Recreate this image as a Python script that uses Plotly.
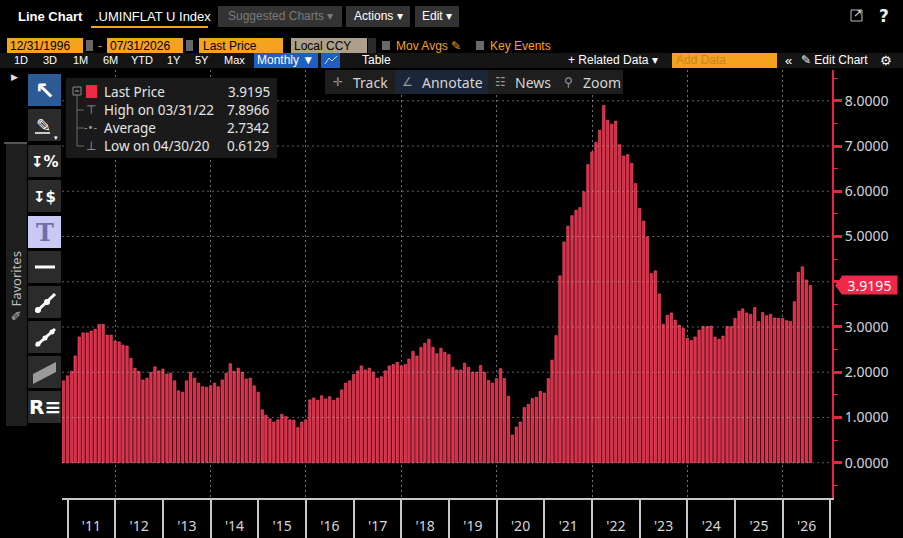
import pandas as pd
import plotly.graph_objects as go

# Monatswerte (Monatsende)
v2010 = [1.81, 1.92]  # Nov, Dez
v2011 = [2.02, 2.36, 2.78, 2.87, 2.87, 2.91, 2.95, 3.06, 3.06, 2.82, 2.82, 2.69]
v2012 = [2.67, 2.60, 2.58, 2.31, 2.09, 2.02, 1.83, 1.87, 2.00, 2.12, 2.03, 2.07]
v2013 = [1.96, 1.98, 1.81, 1.59, 1.56, 1.81, 2.00, 1.87, 1.76, 1.68, 1.67, 1.70]
v2014 = [1.76, 1.68, 1.83, 1.98, 2.19, 2.02, 2.09, 2.00, 1.85, 1.87, 1.70, 1.56]
v2015 = [1.17, 1.05, 0.97, 0.90, 0.95, 1.07, 1.02, 0.95, 0.94, 0.78, 0.90, 0.95]
v2016 = [1.39, 1.43, 1.38, 1.48, 1.41, 1.46, 1.38, 1.43, 1.61, 1.76, 1.81, 1.95]
v2017 = [2.03, 2.14, 2.05, 2.09, 2.00, 1.87, 1.90, 2.03, 2.14, 2.17, 2.22, 2.14]
v2018 = [2.17, 2.29, 2.46, 2.36, 2.55, 2.64, 2.73, 2.55, 2.41, 2.53, 2.44, 2.39]
v2019 = [2.11, 2.05, 2.05, 2.20, 2.11, 2.00, 2.00, 2.15, 2.00, 1.82, 1.76, 1.86]
v2020 = [2.08, 1.86, 1.47, 0.6129, 0.79, 0.90, 1.22, 1.29, 1.42, 1.45, 1.58, 1.54]
v2021 = [1.86, 2.27, 2.81, 4.13, 4.88, 5.23, 5.46, 5.58, 5.64, 5.99, 6.59, 6.87]
v2022 = [7.08, 7.35, 7.8966, 7.57, 7.48, 7.55, 7.03, 6.78, 6.81, 6.62, 6.17, 5.62]
v2023 = [5.34, 4.99, 4.18, 4.24, 3.73, 3.06, 3.26, 3.31, 3.15, 3.04, 2.97, 2.75]
v2024 = [2.70, 2.78, 2.93, 3.01, 3.01, 3.02, 2.78, 2.73, 2.80, 3.01, 3.01, 3.19]
v2025 = [3.35, 3.40, 3.31, 3.28, 3.43, 3.12, 3.32, 3.25, 3.28, 3.20, 3.19, 3.19]
v2026 = [3.14, 3.12, 3.56, 4.21, 4.33, 4.04, 3.9195]

werte = (v2010 + v2011 + v2012 + v2013 + v2014 + v2015 + v2016 + v2017 + v2018
         + v2019 + v2020 + v2021 + v2022 + v2023 + v2024 + v2025 + v2026)
daten = pd.date_range("2010-11-30", periods=len(werte), freq="ME")

last_price = werte[-1]
high_datum, high_wert = "03/31/22", 7.8966
average = 2.7342
low_datum, low_wert = "04/30/20", 0.6129

# y-Achse: Beschriftung bei 4 liegt unter dem Preisschild
y_ticks = [0, 1, 2, 3, 4, 5, 6, 7, 8]
y_text = ["0.0000", "1.0000", "2.0000", "3.0000", "", "5.0000", "6.0000", "7.0000", "8.0000"]

# Farben / Schriften
ROT = "#e8233f"
ORANGE = "#f5a21f"
UI = "Liberation Sans Narrow, Arial Narrow, Liberation Sans, sans-serif"
CHART = "Noto Sans, Open Sans, sans-serif"

W, H = 903, 538
L, R, T, B = 62, 832, 70, 498


def px(x):
    return (x - L) / (R - L)


def py(y):
    return (B - y) / (B - T)


shapes = []
annotations = []

# horizontales Gitter ueber den Balken (wie im Original leicht sichtbar)
for yv in y_ticks:
    shapes.append(dict(type="line", xref="paper", yref="y", x0=0, x1=1, y0=yv, y1=yv,
                       layer="above", line=dict(color="rgba(190,190,190,0.5)", width=1, dash="2px,3px")))


def rect(x0, y0, x1, y1, fill, line=None):
    shapes.append(dict(type="rect", xref="paper", yref="paper",
                       x0=px(x0), x1=px(x1), y0=py(y0), y1=py(y1),
                       fillcolor=fill, layer="above",
                       line=dict(width=1, color=line) if line else dict(width=0)))


def linie(x0, y0, x1, y1, color, width=1):
    shapes.append(dict(type="line", xref="paper", yref="paper",
                       x0=px(x0), x1=px(x1), y0=py(y0), y1=py(y1),
                       layer="above", line=dict(color=color, width=width)))


def text(x, y, s, size=12, color="#e6e6e6", anchor="left", family=UI, **kw):
    annotations.append(dict(x=px(x), y=py(y), xref="paper", yref="paper", text=s,
                            showarrow=False, xanchor=anchor, yanchor="middle", borderpad=0,
                            font=dict(size=size, color=color, family=family), **kw))


# --- obere Leisten ---
text(17, 16, "<b>Line Chart</b>", 13, "#ffffff")
text(94, 16, ".UMINFLAT U Index", 13, "#ffffff")
linie(91, 27, 208, 27, ORANGE, 2)
rect(218, 6, 342, 27, "#333333")
text(280, 16, "Suggested Charts ▾", 12, "#7a7a7a", "center")
rect(346, 6, 410, 27, "#333333")
text(378, 16, "Actions ▾", 12, "#ffffff", "center")
rect(415, 6, 459, 27, "#333333")
text(437, 16, "Edit ▾", 12, "#ffffff", "center")
rect(851, 10, 862, 21, "rgba(0,0,0,0)", "#bbbbbb")
text(858, 14, "↗", 11, "#dddddd", "center", "DejaVu Sans")
text(884, 16, "<b>?</b>", 17, "#f0f0f0", "center", "DejaVu Sans")

rect(7, 38, 83, 53, ORANGE)
text(9, 45.5, "12/31/1996", 12, "#000000")
rect(86, 40, 93, 51, "#666666")
text(100, 45.5, "-", 12, ORANGE, "center")
rect(107, 38, 183, 53, ORANGE)
text(109, 45.5, "07/31/2026", 12, "#000000")
rect(186, 40, 193, 51, "#666666")
rect(199, 38, 283, 53, ORANGE)
text(202, 45.5, "Last Price", 12, "#000000")
rect(291, 38, 367, 53, "#ad9f8a")
text(293, 45.5, "Local CCY", 12, "#000000")
rect(368, 38, 376, 53, "#2a2a2a")
rect(382, 41, 390, 50, "#6a6a6a")
text(395, 45.5, "Mov Avgs ✎", 12, ORANGE)
rect(476, 41, 484, 50, "#6a6a6a")
text(489, 45.5, "Key Events", 12, ORANGE)

rect(0, 53, 903, 68, "#151515")
for lab, xc in zip(["1D", "3D", "1M", "6M", "YTD", "1Y", "5Y", "Max"],
                   [21, 50, 80, 110, 142, 174, 202, 234]):
    text(xc, 60.5, lab, 11, "#ffffff", "center")
rect(254, 53, 318, 68, "#1f5fbf")
text(285, 60.5, "Monthly ▼", 12, "#ffffff", "center")
rect(321, 53, 340, 68, "#1f5fbf")
shapes.append(dict(type="path", xref="paper", yref="paper", layer="above",
                   path="M {} {} L {} {} L {} {} L {} {}".format(
                       px(325), py(64), px(329), py(58), px(332), py(61), px(337), py(56)),
                   line=dict(color="#cfe0ff", width=1)))
text(361, 60.5, "Table", 12, "#ffffff")
text(567, 60.5, "+ Related Data ▾", 12, "#ffffff")
rect(672, 53, 777, 68, ORANGE)
text(675, 60.5, "Add Data", 12, "#c98420")
text(788, 60.5, "«", 13, "#ffffff", "center")
text(800, 60.5, "✎ Edit Chart", 12, "#ffffff")
text(886, 60.5, "⚙", 13, "#ffffff", "center", "DejaVu Sans")

# --- linke Werkzeugleiste ---
text(14, 77, "▶", 9, "#e0e0e0", "center", "DejaVu Sans")
rect(6, 143, 27, 426, "#1e1e1e")
linie(4, 143, 27, 143, "#555555", 2)
text(16, 286, "✎ Favorites", 13, "#bdbdbd", "center", CHART, textangle=-90)
knopf_y = [74, 109, 145, 180, 216, 251, 286, 321, 356, 391]
for i, y0 in enumerate(knopf_y):
    farbe = "#2c5a94" if i == 0 else ("#c9c9f5" if i == 4 else "#2b2b2b")
    rect(28, y0, 61, y0 + 32, farbe)
text(44.5, 91, "<b>↖</b>", 24, "#ffffff", "center", "DejaVu Sans")
text(43, 125, "✎", 18, "#ffffff", "center", "DejaVu Sans")
linie(35, 133, 50, 133, "#ffffff", 1.5)
text(56, 138, "▾", 7, "#ffffff", "center", "DejaVu Sans")
text(44.5, 162, "<b>↧%</b>", 15, "#ffffff", "center", "DejaVu Sans")
text(44.5, 197, "<b>↧$</b>", 15, "#ffffff", "center", "DejaVu Sans")
text(44.5, 232, "<b>T</b>", 24, "#6f6fae", "center", "DejaVu Serif")
linie(35, 267, 55, 267, "#ffffff", 3)
linie(36, 312, 55, 294, "#ffffff", 3)
for cx, cy in [(38, 310), (47, 302)]:
    shapes.append(dict(type="circle", xref="paper", yref="paper", layer="above",
                       x0=px(cx - 3), x1=px(cx + 3), y0=py(cy - 3), y1=py(cy + 3),
                       fillcolor="#ffffff", line=dict(width=0)))
linie(36, 346, 55, 329, "#ffffff", 3)
for cx, cy in [(38, 344), (45, 338), (52, 332)]:
    shapes.append(dict(type="circle", xref="paper", yref="paper", layer="above",
                       x0=px(cx - 2.5), x1=px(cx + 2.5), y0=py(cy - 2.5), y1=py(cy + 2.5),
                       fillcolor="#ffffff", line=dict(width=0)))
shapes.append(dict(type="path", xref="paper", yref="paper", layer="above",
                   path="M {} {} L {} {} L {} {} L {} {} Z".format(
                       px(33), py(374), px(56), py(362), px(56), py(372), px(33), py(384)),
                   fillcolor="#9a9a9a", line=dict(width=0)))
text(44.5, 407, "<b>R≡</b>", 20, "#ffffff", "center", "DejaVu Sans")

# --- Legendenkasten ---
rect(66, 78, 277, 158, "#1a1a1a")
rect(73, 87, 81, 95, "rgba(0,0,0,0)", "#888888")
linie(75, 91, 79, 91, "#aaaaaa", 1)
rect(86, 85, 97, 98, "#ee2a45")
linie(77, 95, 77, 146, "#6a6a6a", 1)
for yy in [110, 128, 146]:
    linie(77, yy, 84, yy, "#6a6a6a", 1)
text(91, 110, "⊤", 12, "#9a9a9a", "center", "DejaVu Sans")
text(91, 128, "-•-", 10, "#9a9a9a", "center", "DejaVu Sans")
text(91, 146, "⊥", 12, "#9a9a9a", "center", "DejaVu Sans")
zeilen = [("Last Price", last_price), ("High on " + high_datum, high_wert),
          ("Average", average), ("Low on " + low_datum, low_wert)]
for (lab, wert), yy in zip(zeilen, [92, 110, 128, 146]):
    text(103, yy, lab, 13.5, "#e4e4e4", "left", CHART)
    text(271, yy, "{:.4f}".format(wert), 13.5, "#e4e4e4", "right", CHART)

# --- Track / Annotate Leiste ---
rect(325, 70, 623, 94, "#1e1e1e")
rect(395, 70, 488, 94, "#1b2738")
for sym, lab, xs in [("✛", "Track", 338), ("∠", "Annotate", 407), ("☷", "News", 500), ("⚲", "Zoom", 568)]:
    text(xs, 82, sym, 12, "#9a9a9a", "center", "DejaVu Sans")
    text(xs + 14, 82, lab, 14, "#d4d4d4", "left", CHART)

# --- Preisschild rechts ---
shapes.append(dict(type="path", xref="paper", yref="y", layer="above",
                   path="M {} {} L {} {} L {} {} Z".format(
                       px(835), last_price, px(842), last_price + 0.2, px(842), last_price - 0.2),
                   fillcolor="#f0284a", line=dict(width=0)))
annotations.append(dict(x=px(869.5), y=last_price, xref="paper", yref="y",
                        text="{:.4f}".format(last_price), showarrow=False,
                        xanchor="center", yanchor="middle", bgcolor="#f0284a",
                        width=55, height=18, borderpad=0,
                        font=dict(size=14, color="#ffffff", family=CHART)))

fig = go.Figure()
fig.add_trace(go.Bar(x=daten, y=werte, marker=dict(color=ROT, line=dict(color="#ff6a86", width=0.5)),
                     hoverinfo="x+y", showlegend=False))
# unsichtbare Spur nur fuer das 2-Jahres-Gitter
fig.add_trace(go.Scatter(x=daten, y=werte, xaxis="x2", mode="lines", line=dict(width=0),
                         opacity=0, hoverinfo="skip", showlegend=False))

x_range = ["2010-11-19", "2027-01-13"]
fig.update_layout(
    width=W, height=H,
    margin=dict(l=L, r=W - R, t=T, b=H - B, autoexpand=False),
    paper_bgcolor="#000000", plot_bgcolor="#000000",
    bargap=0.32,
    xaxis=dict(type="date", range=x_range, dtick="M12", tick0="2011-01-01",
               ticklabelmode="period", tickformat="'%y", ticks="outside", ticklen=40,
               tickwidth=1.5, tickcolor="#c8c8c8", ticklabelstandoff=-26,
               showline=True, linecolor="#c8c8c8", linewidth=2, showgrid=False,
               automargin=False,
               tickfont=dict(size=14, color="#d6d6d6", family=CHART)),
    xaxis2=dict(type="date", range=x_range, overlaying="x", dtick="M24", tick0="2012-01-01",
                showgrid=True, gridcolor="#707070", griddash="2px,3px", gridwidth=1,
                showticklabels=False, ticks="", showline=False, automargin=False),
    yaxis=dict(side="right", range=[-0.78, 8.68], tickvals=y_ticks, ticktext=y_text,
               showgrid=False, zeroline=False, showline=True, linecolor=ROT, linewidth=2,
               ticks="outside", ticklen=8, tickwidth=3, tickcolor=ROT, automargin=False,
               minor=dict(dtick=0.5, ticks="outside", ticklen=4, tickwidth=1, tickcolor=ROT),
               tickfont=dict(size=14, color="#d6d6d6", family=CHART)),
    shapes=shapes,
    annotations=annotations,
)

# Seitenrand des Browsers entfernen, damit die Grafik bei (0,0) beginnt
fig.write_html("out.html", config={"displayModeBar": False},
               post_script="document.body.style.margin='0';document.body.style.background='#000';")
